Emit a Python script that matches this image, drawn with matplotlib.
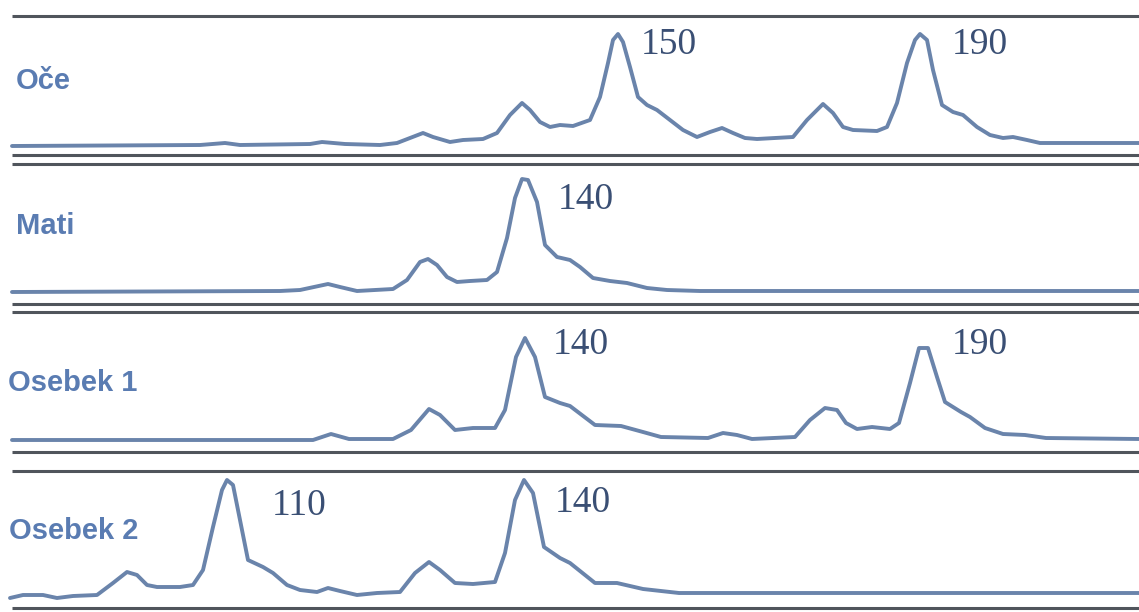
"""Four stacked fragment-analysis traces (Oče / Mati / Osebek 1 / Osebek 2)."""
import matplotlib

matplotlib.use("Agg")
import matplotlib.pyplot as plt

# --- data: trace vertices (x position, signal height) --
oce_x = [12, 200, 225, 240, 310, 322, 345, 380, 397, 423, 433, 450, 463, 483,
         497, 510, 522, 530, 540, 550, 560, 573, 590, 600, 608, 613, 618, 623,
         630, 638, 647, 657, 670, 683, 697, 710, 722, 733, 745, 757, 793, 807,
         823, 833, 843, 853, 877, 887, 897, 907, 915, 920, 927, 933, 942, 953,
         963, 977, 990, 1003, 1013, 1027, 1040, 1139]
oce_signal = [-1, 0, 2, 0, 1, 3, 1, 0, 2, 12, 8, 3, 5, 6, 12, 30, 42, 35, 23,
              18, 20, 19, 25, 48, 82, 105, 111, 103, 78, 48, 40, 35, 25, 15, 8,
              13, 17, 12, 7, 6, 8, 25, 41, 32, 18, 15, 14, 18, 42, 82, 105, 111,
              105, 75, 40, 33, 30, 18, 10, 7, 8, 5, 2, 2]

mati_x = [12, 280, 300, 328, 340, 357, 393, 407, 420, 428, 437, 447, 457, 470,
          487, 497, 507, 515, 522, 528, 537, 545, 557, 570, 580, 593, 610, 627,
          647, 667, 700, 1139]
mati_signal = [-1, 0, 1, 7, 4, 0, 2, 11, 29, 32, 26, 14, 9, 10, 11, 19, 53, 93,
               112, 111, 89, 46, 34, 31, 24, 13, 10, 8, 3, 1, 0, 0]

osebek1_x = [12, 313, 331, 349, 393, 411, 429, 440, 455, 473, 495, 505, 516,
             525, 535, 545, 560, 570, 595, 621, 643, 661, 708, 723, 737, 752,
             795, 810, 825, 837, 846, 857, 872, 890, 899, 910, 919, 928, 937,
             945, 961, 970, 985, 1003, 1025, 1046, 1139]
osebek1_signal = [-1, -1, 5, 0, 0, 9, 30, 24, 9, 11, 11, 29, 82, 101, 82, 42,
                  36, 33, 14, 13, 7, 2, 1, 6, 4, 0, 2, 19, 31, 29, 16, 10, 12,
                  10, 16, 56, 91, 91, 62, 37, 27, 22, 11, 5, 4, 1, 0]

osebek2_x = [10, 23, 43, 57, 73, 97, 113, 127, 137, 147, 157, 180, 193, 203,
             213, 222, 227, 233, 240, 248, 263, 273, 287, 300, 317, 328, 340,
             357, 377, 400, 415, 429, 440, 455, 473, 495, 505, 515, 524, 533,
             544, 560, 570, 595, 617, 643, 679, 1139]
osebek2_signal = [-5, -2, -2, -5, -3, -2, 10, 21, 18, 8, 6, 6, 8, 23, 66, 103,
                  113, 108, 73, 33, 26, 20, 8, 3, 1, 5, 2, -2, 0, 1, 20, 31, 23,
                  10, 9, 11, 40, 93, 113, 100, 46, 35, 30, 10, 10, 4, 0, 0]

names = ["Oče", "Mati", "Osebek 1", "Osebek 2"]
alleles = [["150", "190"], ["140"], ["140", "190"], ["110", "140"]]
traces = [(oce_x, oce_signal), (mati_x, mati_signal),
          (osebek1_x, osebek1_signal), (osebek2_x, osebek2_signal)]

# --- layout (pixel space, y grows downwards) ---------------------------------
W, H = 1139, 612
baselines = [145, 291, 439, 593]
name_pos = [(16, 89), (16, 234), (8, 391), (9, 539)]
allele_pos = [[(641, 45), (952, 45)], [(558, 200)],
              [(553, 345), (952, 345)], [(272, 506), (555, 503)]]
rules = [16, 155, 164, 304, 312, 452, 471, 608]

TRACE = "#6a84ab"
RULE = "#50555c"
NAME = "#5a7cb2"
ALLELE = "#3a4f74"

fig = plt.figure(figsize=(W / 100, H / 100), dpi=100)
ax = fig.add_axes([0, 0, 1, 1])
ax.set_xlim(0, W)
ax.set_ylim(H, 0)
ax.set_axis_off()

for y in rules:
    ax.plot([12, W], [y, y], color=RULE, lw=2.2, solid_capstyle="butt")

for (xs, sig), base in zip(traces, baselines):
    ax.plot(xs, [base - s for s in sig], color=TRACE, lw=2.8,
            solid_joinstyle="round", solid_capstyle="round")

for name, (nx, ny) in zip(names, name_pos):
    ax.text(nx, ny, name, color=NAME, fontsize=21, fontweight="bold",
            family="Liberation Sans", ha="left", va="baseline")

for labels, positions in zip(alleles, allele_pos):
    for lab, (lx, ly) in zip(labels, positions):
        ax.text(lx, ly, lab, color=ALLELE, fontsize=27,
                family="Liberation Serif", ha="left", va="center")

fig.savefig("out.png", dpi=100)
